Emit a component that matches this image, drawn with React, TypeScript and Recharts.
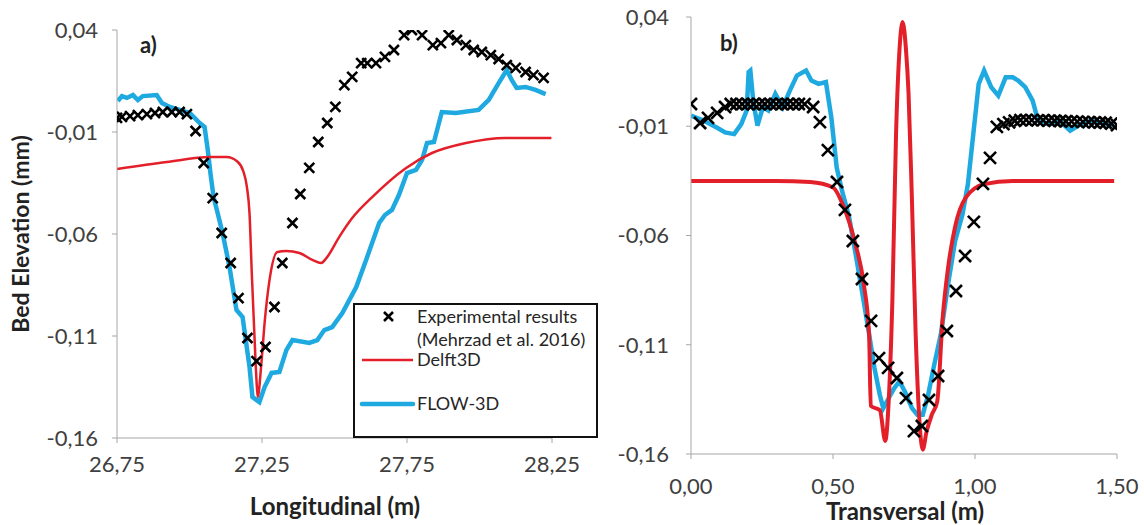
import {
  ComposedChart,
  Line,
  Scatter,
  XAxis,
  YAxis,
} from "recharts";

type Pt = [number, number];

// a) longitudinal profile
const LONG_TICKS_X = [26.75, 27.25, 27.75, 28.25];
const LONG_EXP: Pt[] = [
  [26.75, -0.0031], [26.767, -0.0026], [26.795, -0.0022], [26.822, -0.0017],
  [26.853, -0.0012], [26.881, -0.0007], [26.908, -0.0002], [26.939, -0.0002],
  [26.966, -0.0002], [26.991, -0.0012], [27.021, -0.0095], [27.049, -0.0252],
  [27.08, -0.0424], [27.111, -0.0595], [27.142, -0.0742], [27.169, -0.0914],
  [27.2, -0.111], [27.231, -0.1223], [27.262, -0.1154], [27.293, -0.0958],
  [27.32, -0.0742], [27.355, -0.0546], [27.382, -0.0404], [27.413, -0.0276],
  [27.444, -0.0149], [27.475, -0.0056], [27.503, 0.0023], [27.534, 0.013],
  [27.561, 0.017], [27.592, 0.0238], [27.613, 0.0238], [27.643, 0.0238],
  [27.674, 0.0268], [27.705, 0.0302], [27.74, 0.0375], [27.767, 0.04],
  [27.802, 0.0375], [27.839, 0.0326], [27.867, 0.0336], [27.894, 0.0375],
  [27.922, 0.0351], [27.953, 0.0326], [27.98, 0.0302], [28.008, 0.0292],
  [28.039, 0.0277], [28.066, 0.0258], [28.094, 0.0228], [28.125, 0.0214],
  [28.159, 0.0194], [28.186, 0.0179], [28.221, 0.0165],
];
const LONG_DELFT: Pt[] = [
  [26.75, -0.0281], [26.922, -0.0247], [27.07, -0.0223], [27.128, -0.0223],
  [27.165, -0.0245], [27.185, -0.029], [27.198, -0.037], [27.207, -0.05],
  [27.215, -0.08], [27.224, -0.11], [27.231, -0.1316], [27.235, -0.1399],
  [27.248, -0.1232], [27.259, -0.1036], [27.276, -0.0825], [27.303, -0.0688],
  [27.334, -0.0683], [27.379, -0.0693], [27.424, -0.0727], [27.454, -0.0742],
  [27.472, -0.0718], [27.516, -0.0615], [27.561, -0.0522], [27.63, -0.0419],
  [27.747, -0.0276], [27.836, -0.0203], [27.953, -0.0154], [28.09, -0.0129],
  [28.248, -0.0129],
];
const LONG_FLOW: Pt[] = [
  [26.753, 0.0052], [26.767, 0.0076], [26.784, 0.0067], [26.805, 0.0081],
  [26.822, 0.0057], [26.839, 0.0076], [26.887, 0.0081], [26.905, 0.0042],
  [26.932, 0.0023], [26.966, 0.0008], [27.001, -0.0007], [27.035, -0.0056],
  [27.052, -0.0075], [27.063, -0.0188], [27.073, -0.0311], [27.083, -0.0419],
  [27.097, -0.0497], [27.114, -0.0595], [27.138, -0.0762], [27.162, -0.0973],
  [27.183, -0.1007], [27.207, -0.1252], [27.217, -0.1399], [27.241, -0.1424],
  [27.259, -0.135], [27.283, -0.1281], [27.31, -0.1276], [27.334, -0.1169],
  [27.355, -0.112], [27.413, -0.1134], [27.441, -0.112], [27.465, -0.1071],
  [27.492, -0.1056], [27.527, -0.0987], [27.575, -0.086], [27.609, -0.0727],
  [27.637, -0.0615], [27.654, -0.0546], [27.674, -0.0507], [27.698, -0.0482],
  [27.722, -0.0409], [27.75, -0.0301], [27.781, -0.0286], [27.802, -0.0237],
  [27.819, -0.0154], [27.843, -0.0149], [27.87, -0.0002], [27.918, -0.0007],
  [27.997, 0.0008], [28.032, 0.0057], [28.066, 0.014], [28.094, 0.0204],
  [28.111, 0.0155], [28.128, 0.0116], [28.159, 0.0121], [28.193, 0.0106],
  [28.228, 0.0086],
];

// b) transversal profile
const TRANS_TICKS_X = [0, 0.5, 1, 1.5];
const TRANS_EXP: Pt[] = [
  [0.0, 0.0002], [0.032, -0.0085], [0.06, -0.0062], [0.092, -0.0039],
  [0.12, -0.0012], [0.14, 0.0002], [0.16, 0.0002], [0.18, 0.0001],
  [0.2, 0.0002], [0.22, 0.0002], [0.24, 0.0001], [0.26, 0.0002],
  [0.28, 0.0002], [0.3, 0.0001], [0.32, 0.0002], [0.34, 0.0002],
  [0.36, 0.0001], [0.38, 0.0002], [0.4, 0.0001], [0.43, -0.0012],
  [0.454, -0.0081], [0.482, -0.0209], [0.514, -0.0355], [0.542, -0.0483],
  [0.57, -0.0625], [0.602, -0.0799], [0.634, -0.0991], [0.662, -0.1161],
  [0.694, -0.1206], [0.725, -0.1252], [0.757, -0.1344], [0.785, -0.1495],
  [0.813, -0.1472], [0.838, -0.1353], [0.87, -0.1243], [0.901, -0.1037],
  [0.933, -0.0854], [0.965, -0.0694], [0.996, -0.0538], [1.028, -0.0364],
  [1.053, -0.0245], [1.077, -0.0103], [1.1, -0.009], [1.12, -0.0082],
  [1.14, -0.0075], [1.16, -0.0072], [1.18, -0.0071], [1.2, -0.0072],
  [1.22, -0.0073], [1.24, -0.0072], [1.26, -0.0074], [1.28, -0.0075],
  [1.3, -0.0076], [1.32, -0.0077], [1.34, -0.0078], [1.36, -0.0079],
  [1.38, -0.008], [1.4, -0.0081], [1.42, -0.0082], [1.44, -0.0083],
  [1.46, -0.0084], [1.48, -0.0088], [1.5, -0.0095],
];
const TRANS_DELFT: Pt[] = [
  [0.0, -0.035], [0.3, -0.035], [0.42, -0.0355], [0.5, -0.038],
  [0.538, -0.047], [0.576, -0.0625], [0.608, -0.082], [0.627, -0.105],
  [0.633, -0.138], [0.665, -0.14], [0.684, -0.154], [0.696, -0.136],
  [0.709, -0.09], [0.722, -0.0135], [0.734, 0.0247], [0.745, 0.0377],
  [0.757, 0.025], [0.766, 0.005], [0.778, -0.044], [0.791, -0.105],
  [0.804, -0.144], [0.816, -0.158], [0.829, -0.15], [0.848, -0.142],
  [0.867, -0.136], [0.886, -0.098], [0.905, -0.075], [0.93, -0.056],
  [0.968, -0.0426], [1.032, -0.0365], [1.133, -0.035], [1.49, -0.035],
];
const TRANS_FLOW: Pt[] = [
  [0.0, -0.0051], [0.044, -0.0074], [0.089, -0.0105], [0.12, -0.0128],
  [0.152, -0.0136], [0.177, -0.009], [0.196, -0.0028], [0.203, 0.0148],
  [0.209, 0.0155], [0.219, 0.0017], [0.234, -0.0097], [0.253, -0.0013],
  [0.272, -0.0028], [0.297, 0.0048], [0.323, -0.0013], [0.348, 0.0063],
  [0.373, 0.0132], [0.405, 0.0155], [0.424, 0.0109], [0.449, 0.0094],
  [0.475, 0.0102], [0.494, -0.0059], [0.513, -0.0289], [0.532, -0.0396],
  [0.557, -0.0518], [0.582, -0.0702], [0.608, -0.09], [0.627, -0.105],
  [0.646, -0.1207], [0.665, -0.133], [0.677, -0.139], [0.696, -0.1345],
  [0.715, -0.13], [0.734, -0.1268], [0.753, -0.1314], [0.778, -0.139],
  [0.797, -0.142], [0.816, -0.142], [0.835, -0.133], [0.854, -0.1207],
  [0.88, -0.105], [0.905, -0.0824], [0.93, -0.0625], [0.956, -0.0503],
  [0.975, -0.0365], [0.994, -0.0136], [1.013, 0.0094], [1.032, 0.0155],
  [1.057, 0.0079], [1.082, 0.004], [1.108, 0.0124], [1.133, 0.0124],
  [1.152, 0.0109], [1.177, 0.0079], [1.203, 0.0017], [1.222, -0.0074],
  [1.259, -0.009], [1.297, -0.0074], [1.335, -0.012], [1.373, -0.009],
  [1.411, -0.0074], [1.462, -0.009], [1.487, -0.0097],
];

const TICKS_Y = [0.04, -0.01, -0.06, -0.11, -0.16];

const RED = "#e3202a";
const BLUE = "#1ea9e1";
const AXIS = "#a6a6a6";
const FONT = "Lato, 'Open Sans', sans-serif";

const rows = (pts: Pt[]) => pts.map(([x, y]) => ({ x, y }));
const fmt = (v: number) => v.toFixed(2).replace(".", ",");

const xMark = (size: number) => (props: any) => {
  const { cx, cy } = props;
  if (cx == null || cy == null) return <g />;
  const s = size / 2;
  return (
    <path
      d={`M${cx - s},${cy - s}L${cx + s},${cy + s}M${cx - s},${cy + s}L${cx + s},${cy - s}`}
      stroke="#000"
      strokeWidth={2.6}
      fill="none"
    />
  );
};

const tickStyle = { fill: "#404040", fontSize: 22, fontFamily: FONT };

interface PanelProps {
  left: number;
  width: number;
  margin: { top: number; right: number; bottom: number; left: number };
  xDomain: [number, number];
  xTicks: number[];
  exp: Pt[];
  delft: Pt[];
  flow: Pt[];
  delftWidth: number;
  markSize: number;
  yTickMargin: number;
  xTickMargin: number;
}

function Panel(p: PanelProps) {
  return (
    <div style={{ position: "absolute", left: p.left, top: 0 }}>
      <ComposedChart width={p.width} height={525} margin={p.margin}>
        <XAxis
          type="number"
          dataKey="x"
          domain={p.xDomain}
          ticks={p.xTicks}
          tickFormatter={fmt}
          stroke={AXIS}
          tickSize={5}
          tickMargin={p.xTickMargin}
          tick={tickStyle}
          height={40}
          allowDataOverflow
        />
        <YAxis
          type="number"
          dataKey="y"
          domain={[-0.16, 0.04]}
          ticks={TICKS_Y}
          tickFormatter={fmt}
          stroke={AXIS}
          tickSize={5}
          tickMargin={p.yTickMargin}
          tick={tickStyle}
          width={60}
          allowDataOverflow
        />
        <Line
          data={rows(p.flow)}
          dataKey="y"
          type="linear"
          stroke={BLUE}
          strokeWidth={4.5}
          dot={false}
          isAnimationActive={false}
        />
        <Line
          data={rows(p.delft)}
          dataKey="y"
          type="monotone"
          stroke={RED}
          strokeWidth={p.delftWidth}
          dot={false}
          isAnimationActive={false}
        />
        <Scatter
          data={rows(p.exp)}
          dataKey="y"
          shape={xMark(p.markSize)}
          isAnimationActive={false}
        />
      </ComposedChart>
    </div>
  );
}

const title = { position: "absolute" as const, fontFamily: FONT, fontWeight: 700, color: "#222", whiteSpace: "nowrap" as const };

export default function App() {
  return (
    <div style={{ position: "absolute", left: 0, top: 0, width: 1144, height: 525, background: "#fff", overflow: "hidden" }}>
      <Panel
        left={0}
        width={580}
        margin={{ top: 30, right: 28, bottom: 47, left: 57 }}
        xDomain={[26.75, 28.25]}
        xTicks={LONG_TICKS_X}
        exp={LONG_EXP}
        delft={LONG_DELFT}
        flow={LONG_FLOW}
        delftWidth={2.5}
        markSize={10}
        yTickMargin={14}
        xTickMargin={13}
      />
      <Panel
        left={580}
        width={564}
        margin={{ top: 17, right: 27, bottom: 31, left: 51 }}
        xDomain={[0, 1.5]}
        xTicks={TRANS_TICKS_X}
        exp={TRANS_EXP}
        delft={TRANS_DELFT}
        flow={TRANS_FLOW}
        delftWidth={4}
        markSize={12}
        yTickMargin={17}
        xTickMargin={19}
      />
      <div style={{ ...title, left: 140, top: 31, fontSize: 22 }}>a)</div>
      <div style={{ ...title, left: 720, top: 29, fontSize: 22 }}>b)</div>
      <div
        style={{
          ...title,
          left: 20,
          top: 234,
          fontSize: 23,
          transform: "translate(-50%, -50%) rotate(-90deg)",
        }}
      >
        Bed Elevation (mm)
      </div>
      <div style={{ ...title, left: 335, top: 505, fontSize: 24, transform: "translate(-50%, -50%)" }}>
        Longitudinal (m)
      </div>
      <div style={{ ...title, left: 905, top: 510, fontSize: 24, transform: "translate(-50%, -50%)" }}>
        Transversal (m)
      </div>
      {/* legend box */}
      <div
        style={{
          position: "absolute",
          left: 353,
          top: 303,
          width: 241,
          height: 131,
          border: "2px solid #111",
          background: "#fff",
          fontFamily: FONT,
          fontSize: 18,
          color: "#262626",
        }}
      >
        <svg width={241} height={131} style={{ position: "absolute", left: 0, top: 0 }}>
          <path d="M29,7L38,16M29,16L38,7" stroke="#000" strokeWidth={2.6} />
          <line x1={7} y1={55} x2={58} y2={55} stroke={RED} strokeWidth={2.5} />
          <line x1={7} y1={99} x2={58} y2={99} stroke={BLUE} strokeWidth={4.5} strokeLinecap="round" />
        </svg>
        <div style={{ position: "absolute", left: 62, top: 0, lineHeight: "23px", whiteSpace: "nowrap" }}>
          Experimental results
          <br />
          (Mehrzad et al. 2016)
        </div>
        <div style={{ position: "absolute", left: 62, top: 43, lineHeight: "23px" }}>Delft3D</div>
        <div style={{ position: "absolute", left: 62, top: 87, lineHeight: "23px" }}>FLOW-3D</div>
      </div>
    </div>
  );
}
